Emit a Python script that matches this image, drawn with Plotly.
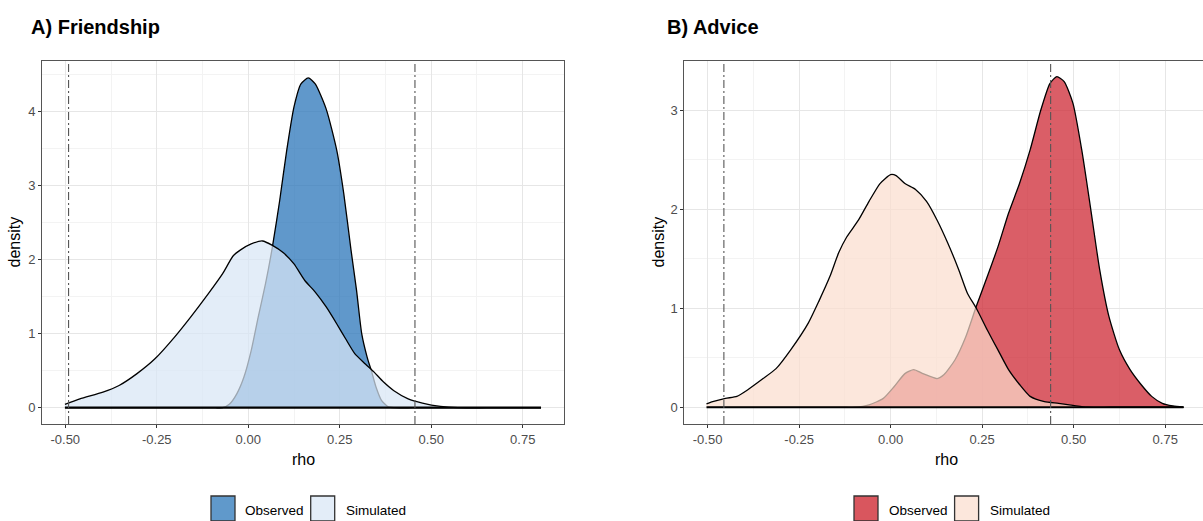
import plotly.graph_objects as go

# ---------------- data ----------------
friend_sim_x = [-0.501, -0.46, -0.397, -0.353, -0.304, -0.255, -0.202, -0.158, -0.109, -0.070,
                -0.041, -0.021, 0.008, 0.039, 0.066, 0.096, 0.125, 0.154, 0.183, 0.213,
                0.242, 0.266, 0.291, 0.320, 0.344, 0.369, 0.398, 0.437, 0.476, 0.525, 0.573,
                0.65, 0.72, 0.80]
friend_sim_y = [0.045, 0.12, 0.21, 0.30, 0.46, 0.66, 0.95, 1.22, 1.54, 1.81,
                2.05, 2.13, 2.21, 2.25, 2.19, 2.09, 1.94, 1.72, 1.56, 1.36,
                1.13, 0.93, 0.73, 0.59, 0.48, 0.35, 0.23, 0.12, 0.063, 0.018, 0.0,
                0.0, 0.0, 0.0]

friend_obs_x = [-0.50, -0.40, -0.30, -0.20, -0.13, -0.09, -0.070, -0.051, -0.031, -0.012,
                0.008, 0.027, 0.047, 0.066, 0.086, 0.105, 0.125, 0.144, 0.164, 0.183,
                0.213, 0.242, 0.261, 0.281, 0.296, 0.310, 0.325, 0.337, 0.349, 0.364,
                0.383, 0.40, 0.45, 0.55, 0.65, 0.80]
friend_obs_y = [0.0, 0.0, 0.0, 0.0, 0.0, 0.0, 0.0, 0.05, 0.19, 0.41,
                0.77, 1.22, 1.67, 2.17, 2.80, 3.47, 4.06, 4.37, 4.45, 4.37,
                4.03, 3.47, 2.89, 2.12, 1.58, 1.00, 0.68, 0.49, 0.28, 0.10,
                0.01, 0.0, 0.0, 0.0, 0.0, 0.0]

advice_sim_x = [-0.503, -0.486, -0.451, -0.42, -0.391, -0.352, -0.313, -0.273, -0.225, -0.195,
                -0.166, -0.142, -0.12, -0.088, -0.059, -0.029, 0.0, 0.015, 0.039, 0.068,
                0.098, 0.127, 0.156, 0.186, 0.21, 0.234, 0.264, 0.293, 0.322, 0.352,
                0.381, 0.42, 0.459, 0.498, 0.537, 0.60, 0.70, 0.80]
advice_sim_y = [0.034, 0.057, 0.09, 0.11, 0.175, 0.28, 0.39, 0.58, 0.85, 1.08,
                1.32, 1.56, 1.72, 1.89, 2.08, 2.26, 2.35, 2.34, 2.26, 2.20,
                2.08, 1.89, 1.66, 1.39, 1.15, 1.00, 0.78, 0.58, 0.38, 0.23,
                0.11, 0.057, 0.04, 0.02, 0.0, 0.0, 0.0, 0.0]

advice_obs_x = [-0.50, -0.40, -0.30, -0.22, -0.16, -0.12, -0.098, -0.059, -0.02, 0.0098,
                0.039, 0.063, 0.088, 0.127, 0.146, 0.176, 0.205, 0.234, 0.264, 0.293,
                0.322, 0.352, 0.381, 0.41, 0.435, 0.454, 0.474, 0.498, 0.522, 0.547,
                0.571, 0.596, 0.625, 0.654, 0.684, 0.713, 0.742, 0.771, 0.80]
advice_obs_y = [0.0, 0.0, 0.0, 0.0, 0.0, 0.0, 0.0, 0.024, 0.09, 0.21,
                0.34, 0.38, 0.34, 0.29, 0.33, 0.48, 0.71, 1.02, 1.32, 1.62,
                1.96, 2.26, 2.60, 3.00, 3.27, 3.34, 3.29, 3.07, 2.60, 1.99,
                1.39, 0.92, 0.58, 0.38, 0.23, 0.11, 0.04, 0.013, 0.0]

friend_ci = [-0.491, 0.4555]
advice_ci = [-0.4555, 0.437]

x_tickvals = [-0.5, -0.25, 0.0, 0.25, 0.5, 0.75]
x_ticktext = ["-0.50", "-0.25", "0.00", "0.25", "0.50", "0.75"]
friend_yticks = [0, 1, 2, 3, 4]
advice_yticks = [0, 1, 2, 3]
legend_labels = ["Observed", "Simulated"]
titles = ["A) Friendship", "B) Advice"]

# ---------------- styles ----------------
FONT = "Liberation Sans, Arial, sans-serif"
W, H = 1203, 521
ML, MR, MT, MB = 42, 0, 61, 97
PW, PH = W - ML - MR, H - MT - MB

blue_obs = "rgba(43,118,186,0.75)"
blue_sim = "rgba(216,230,245,0.72)"
red_obs = "rgba(205,40,52,0.75)"
red_sim = "rgba(251,221,205,0.70)"
blue_obs_key = "#6099cb"
blue_sim_key = "#e3edf8"
red_obs_key = "#d9565e"
red_sim_key = "#fce7dc"


def px_x(p):
    return (p - ML) / PW


def px_y(p):
    return (H - MB - p) / PH


fig = go.Figure()


def add_density(x, y, fill, xa, ya):
    fig.add_trace(go.Scatter(
        x=x, y=y, mode="lines", fill="tozeroy", fillcolor=fill,
        line=dict(color="black", width=1.3, shape="spline", smoothing=0.6),
        xaxis=xa, yaxis=ya, showlegend=False, hoverinfo="skip"))


add_density(friend_obs_x, friend_obs_y, blue_obs, "x", "y")
add_density(friend_sim_x, friend_sim_y, blue_sim, "x", "y")
add_density(advice_obs_x, advice_obs_y, red_obs, "x2", "y2")
add_density(advice_sim_x, advice_sim_y, red_sim, "x2", "y2")

# baselines of the density polygons
for xs, xa, ya in [(friend_sim_x, "x", "y"), (advice_sim_x, "x2", "y2")]:
    fig.add_trace(go.Scatter(x=[min(xs), max(xs)], y=[0, 0], mode="lines",
                             line=dict(color="black", width=2.2),
                             xaxis=xa, yaxis=ya, showlegend=False, hoverinfo="skip"))

shapes = []
for v in friend_ci:
    shapes.append(dict(type="line", xref="x", yref="y domain", x0=v, x1=v, y0=0, y1=1,
                       line=dict(color="#555555", width=1.1, dash="8px,3px,2px,3px")))
for v in advice_ci:
    shapes.append(dict(type="line", xref="x2", yref="y2 domain", x0=v, x1=v, y0=0, y1=1,
                       line=dict(color="#555555", width=1.1, dash="8px,3px,2px,3px")))

annotations = []
# panel titles
for t, px in zip(titles, [29, 665]):
    annotations.append(dict(text="<b>%s</b>" % t, xref="paper", yref="paper",
                            x=px_x(px), y=px_y(27), xanchor="left", yanchor="middle",
                            showarrow=False, font=dict(family=FONT, size=20, color="black")))
# axis titles
for cx in [14, 658]:
    annotations.append(dict(text="density", xref="paper", yref="paper", x=px_x(cx), y=0.5,
                            textangle=-90, xanchor="center", yanchor="middle", showarrow=False,
                            font=dict(family=FONT, size=16, color="black")))
for cx in [303, 946]:
    annotations.append(dict(text="rho", xref="paper", yref="paper", x=px_x(cx), y=px_y(459),
                            xanchor="center", yanchor="middle", showarrow=False,
                            font=dict(family=FONT, size=16, color="black")))

# legends (keys drawn as boxes)
legend_pos = [
    ([(211, 243), (310.7, 344)], [blue_obs_key, blue_sim_key]),
    ([(854, 886.5), (954.6, 987.7)], [red_obs_key, red_sim_key]),
]
for positions, cols in legend_pos:
    for (bx, tx), col, lab in zip(positions, cols, legend_labels):
        shapes.append(dict(type="rect", xref="paper", yref="paper",
                           x0=px_x(bx), x1=px_x(bx + 24), y0=px_y(521), y1=px_y(496),
                           fillcolor=col, line=dict(color="#333333", width=1.3), layer="above"))
        annotations.append(dict(text=lab, xref="paper", yref="paper", x=px_x(tx), y=px_y(510),
                                xanchor="left", yanchor="middle", showarrow=False,
                                font=dict(family=FONT, size=13.5, color="black")))

grid_major = "#e6e6e6"
grid_minor = "#f3f3f3"
axis_common = dict(showline=True, linecolor="#555555", linewidth=1, ticks="outside", ticklen=3,
                   tickcolor="#333333", tickwidth=1,
                   tickfont=dict(family=FONT, size=13, color="#4d4d4d"),
                   showgrid=True, gridcolor=grid_major, gridwidth=1, zeroline=False)

d1 = (0, (564.3 - ML) / PW)
d2 = ((684.3 - ML) / PW, 1.0)

fig.update_layout(
    width=W, height=H, margin=dict(l=ML, r=MR, t=MT, b=MB),
    plot_bgcolor="white", paper_bgcolor="white", showlegend=False,
    xaxis=dict(domain=d1, range=[-0.5636, 0.8636], anchor="y", mirror=True,
               tickvals=x_tickvals, ticktext=x_ticktext,
               minor=dict(dtick=0.125, tick0=-0.5, showgrid=True, gridcolor=grid_minor, ticks=""),
               **axis_common),
    yaxis=dict(domain=[0, 1], range=[-0.22, 4.679], anchor="x", mirror=True,
               tickvals=friend_yticks,
               minor=dict(dtick=0.5, tick0=0, showgrid=True, gridcolor=grid_minor, ticks=""),
               **axis_common),
    xaxis2=dict(domain=d2, range=[-0.5636, 0.8532], anchor="y2", mirror=True,
                tickvals=x_tickvals, ticktext=x_ticktext,
                minor=dict(dtick=0.125, tick0=-0.5, showgrid=True, gridcolor=grid_minor, ticks=""),
                **axis_common),
    yaxis2=dict(domain=[0, 1], range=[-0.169, 3.498], anchor="x2", mirror=False,
                tickvals=advice_yticks,
                minor=dict(dtick=0.5, tick0=0, showgrid=True, gridcolor=grid_minor, ticks=""),
                **axis_common),
    shapes=shapes, annotations=annotations,
)

fig.write_html("out.html", config={"displayModeBar": False},
               post_script="document.body.style.margin='0px';document.body.style.overflow='hidden';")
